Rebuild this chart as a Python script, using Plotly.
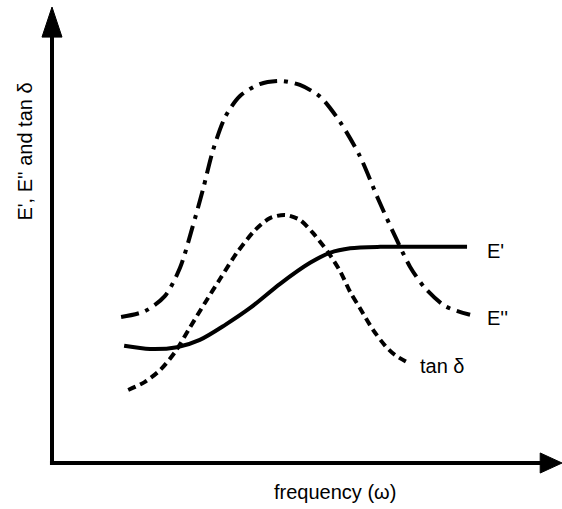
import plotly.graph_objects as go

# Frequency positions (arbitrary units) and the three response curves
freq_storage = [1.42, 1.93, 2.46, 2.91, 3.41, 3.90, 4.49, 5.08, 5.47, 5.87, 6.46, 7.24, 8.17]
e_storage = [2.57, 2.50, 2.54, 2.70, 3.03, 3.40, 3.93, 4.39, 4.61, 4.71, 4.74, 4.74, 4.74]

freq_loss = [1.36, 1.83, 2.22, 2.52, 2.76, 2.97, 3.17, 3.41, 3.70, 4.09, 4.49, 4.88,
             5.28, 5.67, 6.06, 6.42, 6.75, 7.05, 7.34, 7.74, 8.23]
e_loss = [3.20, 3.33, 3.66, 4.28, 5.15, 5.99, 6.86, 7.59, 8.05, 8.31, 8.38, 8.29,
          8.03, 7.48, 6.73, 5.79, 4.98, 4.30, 3.84, 3.44, 3.25]

freq_tan = [1.50, 1.83, 2.13, 2.42, 2.72, 3.01, 3.31, 3.64, 4.00, 4.29, 4.59, 4.88,
            5.14, 5.43, 5.67, 5.87, 6.06, 6.32, 6.56, 6.75, 6.99]
tan_delta = [1.60, 1.78, 2.04, 2.43, 2.98, 3.51, 4.04, 4.61, 5.11, 5.37, 5.44, 5.33,
             5.04, 4.63, 4.21, 3.75, 3.40, 2.92, 2.57, 2.37, 2.21]

curve_labels = ["E'", "E''", "tan δ"]
x_title = "frequency (ω)"
y_title = "E', E'' and tan δ"

FONT = "Liberation Sans, Arial, Helvetica, sans-serif"
FS = 20

fig = go.Figure()
fig.add_trace(go.Scatter(x=freq_loss, y=e_loss, mode="lines",
                         line=dict(color="black", width=4, dash="18px,7px,4px,7px", shape="spline", smoothing=0.8)))
fig.add_trace(go.Scatter(x=freq_tan, y=tan_delta, mode="lines",
                         line=dict(color="black", width=4, dash="8px,5px", shape="spline", smoothing=0.8)))
fig.add_trace(go.Scatter(x=freq_storage, y=e_storage, mode="lines",
                         line=dict(color="black", width=4, shape="spline", smoothing=0.8)))

# Curve end labels
label_pos = [(freq_storage[-1], e_storage[-1]), (freq_loss[-1], e_loss[-1]), (freq_tan[-1], tan_delta[-1])]
offsets = [0.36, 0.30, 0.22]
annotations = []
for text, (lx, ly), dx in zip(curve_labels, label_pos, offsets):
    annotations.append(dict(x=lx + dx, y=ly - 0.08, xref="x", yref="y", text=text, showarrow=False,
                            xanchor="left", yanchor="middle", font=dict(family=FONT, size=FS, color="black")))

annotations.append(dict(x=0.433, y=-0.064, xref="paper", yref="paper", text=x_title, showarrow=False,
                        xanchor="left", yanchor="middle", font=dict(family=FONT, size=FS, color="black")))
annotations.append(dict(x=-0.055, y=0.683, xref="paper", yref="paper", text=y_title, showarrow=False,
                        textangle=-90, xanchor="center", yanchor="middle",
                        font=dict(family=FONT, size=FS, color="black")))

# Axis lines with filled arrowheads
shapes = [
    dict(type="line", xref="paper", yref="paper", x0=-0.004, y0=0, x1=0.965, y1=0,
         line=dict(color="black", width=4)),
    dict(type="line", xref="paper", yref="paper", x0=0, y0=-0.004, x1=0, y1=0.94,
         line=dict(color="black", width=4)),
    dict(type="path", xref="paper", yref="paper", path="M 1.004,0 L 0.961,0.022 L 0.961,-0.022 Z",
         fillcolor="black", line=dict(color="black", width=1)),
    dict(type="path", xref="paper", yref="paper", path="M 0,1.0 L 0.0197,0.934 L -0.0197,0.934 Z",
         fillcolor="black", line=dict(color="black", width=1)),
]

fig.update_layout(
    width=562, height=509,
    margin=dict(l=52, r=2, t=7, b=46),
    paper_bgcolor="white", plot_bgcolor="white",
    showlegend=False,
    xaxis=dict(range=[0, 10], visible=False, fixedrange=True),
    yaxis=dict(range=[0, 10], visible=False, fixedrange=True),
    annotations=annotations,
    shapes=shapes,
)

fig.write_html("out.html")
